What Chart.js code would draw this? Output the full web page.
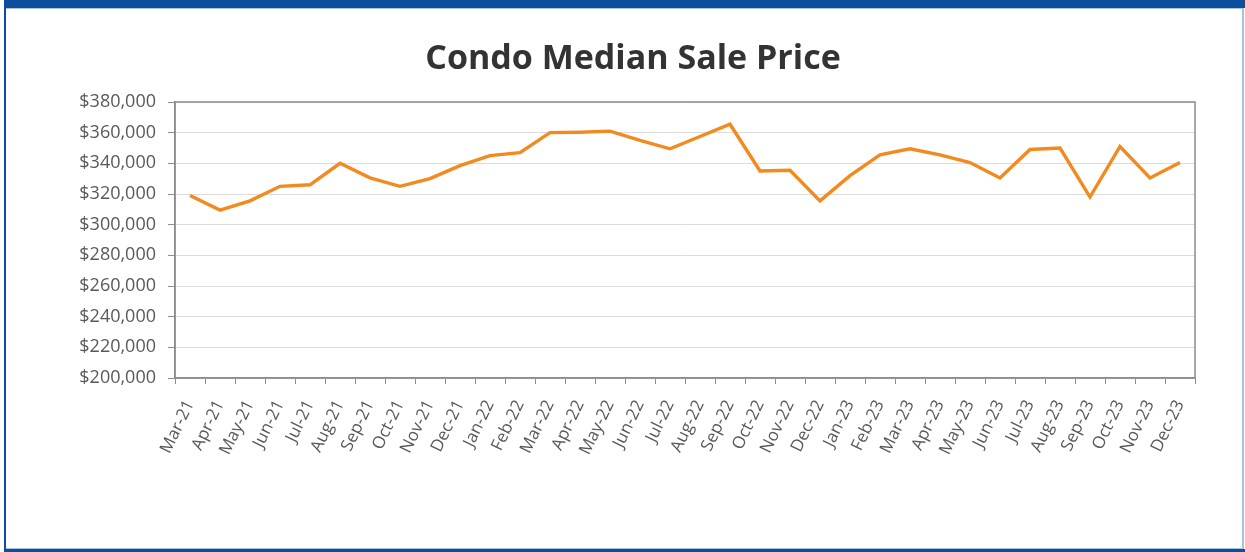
<!DOCTYPE html>
<html>
<head>
<meta charset="utf-8">
<script src="https://cdn.jsdelivr.net/npm/chart.js@4/dist/chart.umd.min.js"></script>
<style>
  html, body { margin: 0; padding: 0; background: #ffffff; }
  #wrap { position: relative; width: 1245px; height: 552px; overflow: hidden; }
  #wrap canvas { position: absolute; left: 0; top: 0; }
  .f { position: absolute; pointer-events: none; }
</style>
</head>
<body>
<div id="wrap">
  <canvas id="c" width="1245" height="552"></canvas>
  <div class="f" style="left:4px;top:0;width:1241px;height:8px;background:#0b4f9c;"></div>
  <div class="f" style="left:6px;top:8px;width:1237px;height:1px;background:#a9c3df;"></div>
  <div class="f" style="left:4px;top:0;width:2px;height:552px;background:#0b4f9c;"></div>
  <div class="f" style="left:1242px;top:8px;width:2px;height:544px;background:#a9c3df;"></div>
  <div class="f" style="left:6px;top:548px;width:1238px;height:1px;background:#a9c3df;"></div>
  <div class="f" style="left:4px;top:549px;width:1241px;height:3px;background:#0b4f9c;"></div>
</div>
<script>
const categories = ["Mar-21","Apr-21","May-21","Jun-21","Jul-21","Aug-21","Sep-21","Oct-21","Nov-21","Dec-21",
  "Jan-22","Feb-22","Mar-22","Apr-22","May-22","Jun-22","Jul-22","Aug-22","Sep-22","Oct-22","Nov-22","Dec-22",
  "Jan-23","Feb-23","Mar-23","Apr-23","May-23","Jun-23","Jul-23","Aug-23","Sep-23","Oct-23","Nov-23","Dec-23"];
const medianPrice = [319000, 309500, 315500, 325000, 326000, 340000, 330500, 325000, 330000, 338500,
  345000, 347000, 360000, 360300, 361000, 355000, 349500, 357500, 365500, 335000, 335500, 315500,
  332000, 345500, 349500, 345500, 340500, 330500, 349000, 350000, 318000, 351000, 330500, 340500];
const yMin = 200000;
const yMax = 380000;
const yStep = 20000;
const chartTitle = "Condo Median Sale Price";

const boxPlugin = {
  id: 'box',
  afterDraw(chart) {
    const a = chart.chartArea, ctx = chart.ctx;
    ctx.save();
    ctx.strokeStyle = '#8c8c8c';
    ctx.lineWidth = 1.5;
    ctx.strokeRect(a.left, a.top, a.right - a.left, a.bottom - a.top);
    ctx.restore();
  }
};

const titlePlugin = {
  id: 'centeredTitle',
  afterDraw(chart) {
    const ctx = chart.ctx;
    ctx.save();
    ctx.fillStyle = '#333333';
    ctx.font = "bold 34px 'Open Sans'";
    ctx.textAlign = 'center';
    ctx.textBaseline = 'alphabetic';
    ctx.fillText(chartTitle, 633, 69);
    ctx.restore();
  }
};

new Chart(document.getElementById('c'), {
  type: 'line',
  data: {
    labels: categories,
    datasets: [{
      data: medianPrice,
      borderColor: '#f28a1f',
      borderWidth: 3.4,
      pointRadius: 0,
      tension: 0,
      fill: false
    }]
  },
  options: {
    responsive: false,
    animation: false,
    layout: { padding: { left: 0, right: 50, top: 102, bottom: 0 } },
    plugins: {
      legend: { display: false },
      tooltip: { enabled: false },
      title: { display: false }
    },
    scales: {
      x: {
        offset: true,
        grid: { display: true, drawOnChartArea: false, drawTicks: true, tickLength: 6, offset: true, color: '#8c8c8c' },
        border: { display: true, color: '#8c8c8c', width: 1.5 },
        ticks: {
          autoSkip: false,
          minRotation: 64,
          maxRotation: 64,
          color: '#595959',
          padding: 13,
          font: { family: "'Open Sans'", size: 17 }
        },
        afterFit(scale) { scale.height = 174; }
      },
      y: {
        min: yMin,
        max: yMax,
        grid: { color: '#dcdcdc', lineWidth: 1, tickLength: 7, drawTicks: true, tickColor: '#8c8c8c' },
        border: { display: true, color: '#8c8c8c', width: 1.5 },
        ticks: {
          stepSize: yStep,
          color: '#595959',
          padding: 12,
          font: { family: "'Open Sans'", size: 18 },
          callback: v => '$' + v.toLocaleString('en-US')
        },
        afterFit(scale) { scale.width = 175; }
      }
    }
  },
  plugins: [boxPlugin, titlePlugin]
});
</script>
</body>
</html>
